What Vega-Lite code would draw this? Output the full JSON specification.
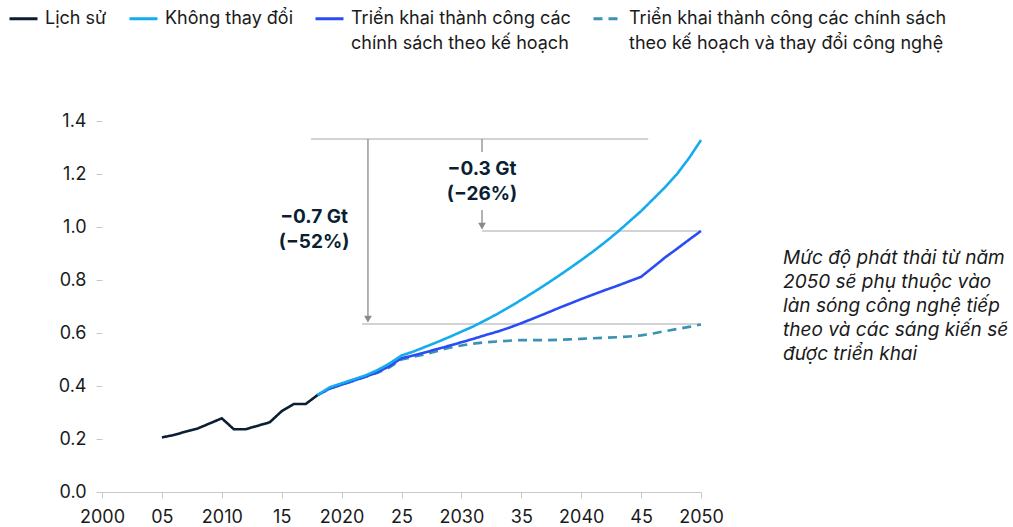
{
  "$schema": "https://vega.github.io/schema/vega-lite/v6.json",
  "width": 599,
  "height": 371,
  "autosize": {"type": "none"},
  "padding": {"left": 102, "top": 121, "right": 312, "bottom": 35},
  "background": "white",
  "config": {
    "view": {"stroke": null},
    "font": "Inter",
    "style": {"guide-label": {"lineHeight": 25}}
  },
  "datasets": {
    "series": [
      {"year": 2005, "value": 0.206, "series": "Lịch sử"},
      {"year": 2006, "value": 0.215, "series": "Lịch sử"},
      {"year": 2007, "value": 0.228, "series": "Lịch sử"},
      {"year": 2008, "value": 0.240, "series": "Lịch sử"},
      {"year": 2009, "value": 0.259, "series": "Lịch sử"},
      {"year": 2010, "value": 0.278, "series": "Lịch sử"},
      {"year": 2011, "value": 0.237, "series": "Lịch sử"},
      {"year": 2012, "value": 0.237, "series": "Lịch sử"},
      {"year": 2013, "value": 0.250, "series": "Lịch sử"},
      {"year": 2014, "value": 0.263, "series": "Lịch sử"},
      {"year": 2015, "value": 0.305, "series": "Lịch sử"},
      {"year": 2016, "value": 0.332, "series": "Lịch sử"},
      {"year": 2017, "value": 0.332, "series": "Lịch sử"},
      {"year": 2018, "value": 0.366, "series": "Lịch sử"},

      {"year": 2018, "value": 0.366, "series": "Triển khai thành công các chính sách theo kế hoạch và thay đổi công nghệ"},
      {"year": 2019, "value": 0.390, "series": "Triển khai thành công các chính sách theo kế hoạch và thay đổi công nghệ"},
      {"year": 2020, "value": 0.405, "series": "Triển khai thành công các chính sách theo kế hoạch và thay đổi công nghệ"},
      {"year": 2021, "value": 0.420, "series": "Triển khai thành công các chính sách theo kế hoạch và thay đổi công nghệ"},
      {"year": 2022, "value": 0.435, "series": "Triển khai thành công các chính sách theo kế hoạch và thay đổi công nghệ"},
      {"year": 2023, "value": 0.450, "series": "Triển khai thành công các chính sách theo kế hoạch và thay đổi công nghệ"},
      {"year": 2024, "value": 0.470, "series": "Triển khai thành công các chính sách theo kế hoạch và thay đổi công nghệ"},
      {"year": 2025, "value": 0.500, "series": "Triển khai thành công các chính sách theo kế hoạch và thay đổi công nghệ"},
      {"year": 2026, "value": 0.510, "series": "Triển khai thành công các chính sách theo kế hoạch và thay đổi công nghệ"},
      {"year": 2027, "value": 0.520, "series": "Triển khai thành công các chính sách theo kế hoạch và thay đổi công nghệ"},
      {"year": 2028, "value": 0.532, "series": "Triển khai thành công các chính sách theo kế hoạch và thay đổi công nghệ"},
      {"year": 2029, "value": 0.544, "series": "Triển khai thành công các chính sách theo kế hoạch và thay đổi công nghệ"},
      {"year": 2030, "value": 0.553, "series": "Triển khai thành công các chính sách theo kế hoạch và thay đổi công nghệ"},
      {"year": 2031, "value": 0.560, "series": "Triển khai thành công các chính sách theo kế hoạch và thay đổi công nghệ"},
      {"year": 2032, "value": 0.565, "series": "Triển khai thành công các chính sách theo kế hoạch và thay đổi công nghệ"},
      {"year": 2033, "value": 0.568, "series": "Triển khai thành công các chính sách theo kế hoạch và thay đổi công nghệ"},
      {"year": 2034, "value": 0.571, "series": "Triển khai thành công các chính sách theo kế hoạch và thay đổi công nghệ"},
      {"year": 2035, "value": 0.573, "series": "Triển khai thành công các chính sách theo kế hoạch và thay đổi công nghệ"},
      {"year": 2036, "value": 0.573, "series": "Triển khai thành công các chính sách theo kế hoạch và thay đổi công nghệ"},
      {"year": 2037, "value": 0.573, "series": "Triển khai thành công các chính sách theo kế hoạch và thay đổi công nghệ"},
      {"year": 2038, "value": 0.574, "series": "Triển khai thành công các chính sách theo kế hoạch và thay đổi công nghệ"},
      {"year": 2039, "value": 0.576, "series": "Triển khai thành công các chính sách theo kế hoạch và thay đổi công nghệ"},
      {"year": 2040, "value": 0.578, "series": "Triển khai thành công các chính sách theo kế hoạch và thay đổi công nghệ"},
      {"year": 2041, "value": 0.580, "series": "Triển khai thành công các chính sách theo kế hoạch và thay đổi công nghệ"},
      {"year": 2042, "value": 0.582, "series": "Triển khai thành công các chính sách theo kế hoạch và thay đổi công nghệ"},
      {"year": 2043, "value": 0.584, "series": "Triển khai thành công các chính sách theo kế hoạch và thay đổi công nghệ"},
      {"year": 2044, "value": 0.587, "series": "Triển khai thành công các chính sách theo kế hoạch và thay đổi công nghệ"},
      {"year": 2045, "value": 0.591, "series": "Triển khai thành công các chính sách theo kế hoạch và thay đổi công nghệ"},
      {"year": 2046, "value": 0.598, "series": "Triển khai thành công các chính sách theo kế hoạch và thay đổi công nghệ"},
      {"year": 2047, "value": 0.607, "series": "Triển khai thành công các chính sách theo kế hoạch và thay đổi công nghệ"},
      {"year": 2048, "value": 0.615, "series": "Triển khai thành công các chính sách theo kế hoạch và thay đổi công nghệ"},
      {"year": 2049, "value": 0.623, "series": "Triển khai thành công các chính sách theo kế hoạch và thay đổi công nghệ"},
      {"year": 2050, "value": 0.632, "series": "Triển khai thành công các chính sách theo kế hoạch và thay đổi công nghệ"},

      {"year": 2018, "value": 0.366, "series": "Triển khai thành công các chính sách theo kế hoạch"},
      {"year": 2019, "value": 0.390, "series": "Triển khai thành công các chính sách theo kế hoạch"},
      {"year": 2020, "value": 0.405, "series": "Triển khai thành công các chính sách theo kế hoạch"},
      {"year": 2021, "value": 0.420, "series": "Triển khai thành công các chính sách theo kế hoạch"},
      {"year": 2022, "value": 0.435, "series": "Triển khai thành công các chính sách theo kế hoạch"},
      {"year": 2023, "value": 0.452, "series": "Triển khai thành công các chính sách theo kế hoạch"},
      {"year": 2024, "value": 0.475, "series": "Triển khai thành công các chính sách theo kế hoạch"},
      {"year": 2025, "value": 0.505, "series": "Triển khai thành công các chính sách theo kế hoạch"},
      {"year": 2026, "value": 0.515, "series": "Triển khai thành công các chính sách theo kế hoạch"},
      {"year": 2027, "value": 0.527, "series": "Triển khai thành công các chính sách theo kế hoạch"},
      {"year": 2028, "value": 0.540, "series": "Triển khai thành công các chính sách theo kế hoạch"},
      {"year": 2029, "value": 0.552, "series": "Triển khai thành công các chính sách theo kế hoạch"},
      {"year": 2030, "value": 0.565, "series": "Triển khai thành công các chính sách theo kế hoạch"},
      {"year": 2031, "value": 0.578, "series": "Triển khai thành công các chính sách theo kế hoạch"},
      {"year": 2032, "value": 0.592, "series": "Triển khai thành công các chính sách theo kế hoạch"},
      {"year": 2033, "value": 0.605, "series": "Triển khai thành công các chính sách theo kế hoạch"},
      {"year": 2034, "value": 0.620, "series": "Triển khai thành công các chính sách theo kế hoạch"},
      {"year": 2035, "value": 0.637, "series": "Triển khai thành công các chính sách theo kế hoạch"},
      {"year": 2036, "value": 0.655, "series": "Triển khai thành công các chính sách theo kế hoạch"},
      {"year": 2037, "value": 0.673, "series": "Triển khai thành công các chính sách theo kế hoạch"},
      {"year": 2038, "value": 0.692, "series": "Triển khai thành công các chính sách theo kế hoạch"},
      {"year": 2039, "value": 0.710, "series": "Triển khai thành công các chính sách theo kế hoạch"},
      {"year": 2040, "value": 0.728, "series": "Triển khai thành công các chính sách theo kế hoạch"},
      {"year": 2041, "value": 0.745, "series": "Triển khai thành công các chính sách theo kế hoạch"},
      {"year": 2042, "value": 0.762, "series": "Triển khai thành công các chính sách theo kế hoạch"},
      {"year": 2043, "value": 0.778, "series": "Triển khai thành công các chính sách theo kế hoạch"},
      {"year": 2044, "value": 0.795, "series": "Triển khai thành công các chính sách theo kế hoạch"},
      {"year": 2045, "value": 0.812, "series": "Triển khai thành công các chính sách theo kế hoạch"},
      {"year": 2046, "value": 0.848, "series": "Triển khai thành công các chính sách theo kế hoạch"},
      {"year": 2047, "value": 0.885, "series": "Triển khai thành công các chính sách theo kế hoạch"},
      {"year": 2048, "value": 0.918, "series": "Triển khai thành công các chính sách theo kế hoạch"},
      {"year": 2049, "value": 0.952, "series": "Triển khai thành công các chính sách theo kế hoạch"},
      {"year": 2050, "value": 0.985, "series": "Triển khai thành công các chính sách theo kế hoạch"},

      {"year": 2018, "value": 0.366, "series": "Không thay đổi"},
      {"year": 2019, "value": 0.395, "series": "Không thay đổi"},
      {"year": 2020, "value": 0.410, "series": "Không thay đổi"},
      {"year": 2021, "value": 0.425, "series": "Không thay đổi"},
      {"year": 2022, "value": 0.440, "series": "Không thay đổi"},
      {"year": 2023, "value": 0.460, "series": "Không thay đổi"},
      {"year": 2024, "value": 0.485, "series": "Không thay đổi"},
      {"year": 2025, "value": 0.515, "series": "Không thay đổi"},
      {"year": 2026, "value": 0.530, "series": "Không thay đổi"},
      {"year": 2027, "value": 0.548, "series": "Không thay đổi"},
      {"year": 2028, "value": 0.566, "series": "Không thay đổi"},
      {"year": 2029, "value": 0.585, "series": "Không thay đổi"},
      {"year": 2030, "value": 0.605, "series": "Không thay đổi"},
      {"year": 2031, "value": 0.625, "series": "Không thay đổi"},
      {"year": 2032, "value": 0.648, "series": "Không thay đổi"},
      {"year": 2033, "value": 0.672, "series": "Không thay đổi"},
      {"year": 2034, "value": 0.698, "series": "Không thay đổi"},
      {"year": 2035, "value": 0.725, "series": "Không thay đổi"},
      {"year": 2036, "value": 0.753, "series": "Không thay đổi"},
      {"year": 2037, "value": 0.782, "series": "Không thay đổi"},
      {"year": 2038, "value": 0.812, "series": "Không thay đổi"},
      {"year": 2039, "value": 0.843, "series": "Không thay đổi"},
      {"year": 2040, "value": 0.875, "series": "Không thay đổi"},
      {"year": 2041, "value": 0.908, "series": "Không thay đổi"},
      {"year": 2042, "value": 0.943, "series": "Không thay đổi"},
      {"year": 2043, "value": 0.980, "series": "Không thay đổi"},
      {"year": 2044, "value": 1.020, "series": "Không thay đổi"},
      {"year": 2045, "value": 1.060, "series": "Không thay đổi"},
      {"year": 2046, "value": 1.105, "series": "Không thay đổi"},
      {"year": 2047, "value": 1.150, "series": "Không thay đổi"},
      {"year": 2048, "value": 1.200, "series": "Không thay đổi"},
      {"year": 2049, "value": 1.260, "series": "Không thay đổi"},
      {"year": 2050, "value": 1.328, "series": "Không thay đổi"}
    ],
    "lightRules": [
      {"x": 2017.45, "x2": 2045.6, "y": 1.332, "y2": 1.332},
      {"x": 2021.7, "x2": 2050, "y": 0.634, "y2": 0.634},
      {"x": 2031.72, "x2": 2050, "y": 0.985, "y2": 0.985}
    ],
    "darkRules": [
      {"x": 2022.2, "x2": 2022.2, "y": 1.332, "y2": 0.655},
      {"x": 2031.72, "x2": 2031.72, "y": 1.332, "y2": 1.283},
      {"x": 2031.72, "x2": 2031.72, "y": 1.064, "y2": 1.006}
    ],
    "arrows": [
      {"x": 2022.2, "y": 0.652},
      {"x": 2031.72, "y": 1.003}
    ],
    "boldNotes": [
      {"x": 2017.7, "y": 1.038, "text": "−0.7 Gt|(−52%)"},
      {"x": 2031.72, "y": 1.219, "text": "−0.3 Gt|(−26%)"}
    ],
    "italicNotes": [
      {"x": 2056.85, "y": 0.883, "text": "Mức độ phát thải từ năm|2050 sẽ phụ thuộc vào|làn sóng công nghệ tiếp|theo và các sáng kiến sẽ|được triển khai"}
    ]
  },
  "layer": [
    {
      "data": {"name": "lightRules"},
      "mark": {"type": "rule", "color": "#c4c4c4", "strokeWidth": 1.3},
      "encoding": {
        "x": {"field": "x", "type": "quantitative"},
        "x2": {"field": "x2"},
        "y": {"field": "y", "type": "quantitative"},
        "y2": {"field": "y2"}
      }
    },
    {
      "data": {"name": "darkRules"},
      "mark": {"type": "rule", "color": "#8a8a8a", "strokeWidth": 1.3},
      "encoding": {
        "x": {"field": "x", "type": "quantitative"},
        "x2": {"field": "x2"},
        "y": {"field": "y", "type": "quantitative"},
        "y2": {"field": "y2"}
      }
    },
    {
      "data": {"name": "arrows"},
      "mark": {"type": "point", "shape": "triangle-down", "filled": true, "color": "#8a8a8a", "size": 60, "opacity": 1},
      "encoding": {
        "x": {"field": "x", "type": "quantitative"},
        "y": {"field": "y", "type": "quantitative"}
      }
    },
    {
      "data": {"name": "series"},
      "mark": {"type": "line", "strokeWidth": 2.6},
      "encoding": {
        "x": {
          "field": "year", "type": "quantitative",
          "scale": {"domain": [2000, 2050], "nice": false, "zero": false},
          "axis": {
            "title": null, "grid": false,
            "values": [2000, 2005, 2010, 2015, 2020, 2025, 2030, 2035, 2040, 2045, 2050],
            "labelExpr": "datum.value % 10 == 0 ? '' + datum.value : (datum.value % 100 < 10 ? '0' + (datum.value % 100) : '' + (datum.value % 100))",
            "domainColor": "#c8c8c8", "tickColor": "#c8c8c8", "tickSize": 6,
            "labelFont": "Inter", "labelFontSize": 18, "labelColor": "#1a1a1a", "labelPadding": 10,
            "labelFlush": false, "labelOverlap": false
          }
        },
        "y": {
          "field": "value", "type": "quantitative",
          "scale": {"domain": [0, 1.4], "nice": false},
          "axis": {
            "title": null, "grid": false, "domain": false,
            "values": [0, 0.2, 0.4, 0.6, 0.8, 1.0, 1.2, 1.4],
            "format": ".1f",
            "tickColor": "#c8c8c8", "tickSize": 6,
            "labelFont": "Inter", "labelFontSize": 18, "labelColor": "#1a1a1a", "labelPadding": 10
          }
        },
        "color": {
          "field": "series", "type": "nominal",
          "scale": {
            "domain": ["Lịch sử", "Không thay đổi", "Triển khai thành công các chính sách theo kế hoạch", "Triển khai thành công các chính sách theo kế hoạch và thay đổi công nghệ"],
            "range": ["#0b1f33", "#14acec", "#2a4cf5", "#3a92b4"]
          },
          "legend": {
            "title": null, "orient": "none", "legendX": -94, "legendY": -118,
            "direction": "horizontal", "columns": 4,
            "symbolType": "stroke", "symbolSize": 784, "symbolStrokeWidth": 3,
            "labelFont": "Inter", "labelFontSize": 18, "labelColor": "#1a1a1a",
            "labelOffset": 6, "columnPadding": 16, "labelLimit": 400, "labelBaseline": "middle",
            "labelExpr": "datum.label == 'Triển khai thành công các chính sách theo kế hoạch' ? ['Triển khai thành công các\u00a0\u00a0\u00a0\u00a0', 'chính sách theo kế hoạch'] : (datum.label == 'Triển khai thành công các chính sách theo kế hoạch và thay đổi công nghệ' ? ['Triển khai thành công các chính sách', 'theo kế hoạch và thay đổi công nghệ'] : [datum.label, ''])"
          }
        },
        "strokeDash": {
          "field": "series", "type": "nominal",
          "scale": {
            "domain": ["Lịch sử", "Không thay đổi", "Triển khai thành công các chính sách theo kế hoạch", "Triển khai thành công các chính sách theo kế hoạch và thay đổi công nghệ"],
            "range": [[1, 0], [1, 0], [1, 0], [9, 6]]
          },
          "legend": {
            "title": null, "orient": "none", "legendX": -94, "legendY": -118,
            "direction": "horizontal", "columns": 4,
            "symbolType": "stroke", "symbolSize": 784, "symbolStrokeWidth": 3,
            "labelFont": "Inter", "labelFontSize": 18, "labelColor": "#1a1a1a",
            "labelOffset": 6, "columnPadding": 16, "labelLimit": 400, "labelBaseline": "middle",
            "labelExpr": "datum.label == 'Triển khai thành công các chính sách theo kế hoạch' ? ['Triển khai thành công các\u00a0\u00a0\u00a0\u00a0', 'chính sách theo kế hoạch'] : (datum.label == 'Triển khai thành công các chính sách theo kế hoạch và thay đổi công nghệ' ? ['Triển khai thành công các chính sách', 'theo kế hoạch và thay đổi công nghệ'] : [datum.label, ''])"
          }
        }
      }
    },
    {
      "data": {"name": "boldNotes"},
      "mark": {"type": "text", "font": "Inter", "fontSize": 19, "fontWeight": "bold", "color": "#0b1f33", "align": "center", "baseline": "middle", "lineBreak": "|", "lineHeight": 25},
      "encoding": {
        "x": {"field": "x", "type": "quantitative"},
        "y": {"field": "y", "type": "quantitative"},
        "text": {"field": "text"}
      }
    },
    {
      "data": {"name": "italicNotes"},
      "mark": {"type": "text", "font": "Inter", "fontSize": 19, "fontStyle": "italic", "color": "#1a1a1a", "align": "left", "baseline": "middle", "lineBreak": "|", "lineHeight": 24},
      "encoding": {
        "x": {"field": "x", "type": "quantitative"},
        "y": {"field": "y", "type": "quantitative"},
        "text": {"field": "text"}
      }
    }
  ]
}
